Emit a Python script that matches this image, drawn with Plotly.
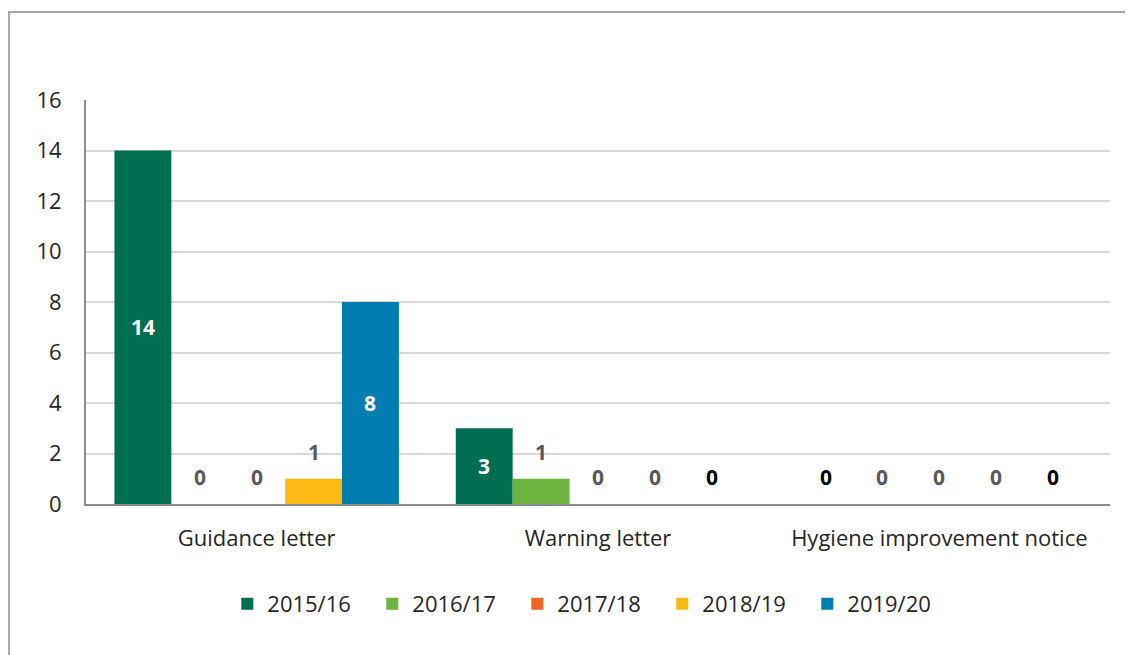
import plotly.graph_objects as go

categories = ["Guidance letter", "Warning letter", "Hygiene improvement notice"]
series_names = ["2015/16", "2016/17", "2017/18", "2018/19", "2019/20"]
values_2015_16 = [14, 3, 0]
values_2016_17 = [0, 1, 0]
values_2017_18 = [0, 0, 0]
values_2018_19 = [1, 0, 0]
values_2019_20 = [8, 0, 0]
series_values = [values_2015_16, values_2016_17, values_2017_18, values_2018_19, values_2019_20]
colors = ["#006F51", "#6DB33F", "#F26522", "#FDB913", "#007DB0"]
y_ticks = [0, 2, 4, 6, 8, 10, 12, 14, 16]

FONT = "'Open Sans', 'Noto Sans', sans-serif"
FS = 22

fig = go.Figure()
for name, vals, col in zip(series_names, series_values, colors):
    fig.add_trace(go.Bar(x=categories, y=vals, name=name, marker=dict(color=col, line=dict(width=0)),
                         hoverinfo="x+y+name"))

# data labels
n = len(series_names)
annotations = []
black_labels = {(1, 4), (2, 0), (2, 4)}
for j, vals in enumerate(series_values):
    for i, v in enumerate(vals):
        xpos = i + (j - (n - 1) / 2) / (n + 1)
        if v >= 3:
            annotations.append(dict(x=xpos, y=v / 2, xref="x", yref="y", text=f"<b>{v}</b>",
                                    showarrow=False, font=dict(color="white", size=FS - 1, family=FONT)))
        else:
            c = "#000000" if (i, j) in black_labels else "#595959"
            annotations.append(dict(x=xpos, y=v, xref="x", yref="y", text=f"<b>{v}</b>",
                                    showarrow=False, yshift=27, yanchor="middle",
                                    font=dict(color=c, size=FS - 1, family=FONT)))

# page body has an 8px default margin, so the figure is sized/offset accordingly
# plot area in page pixels: x 86..1110, y 100..504
fig.update_layout(
    width=1125, height=647,
    margin=dict(l=78, r=23, t=92, b=151),
    paper_bgcolor="white", plot_bgcolor="white",
    barmode="group", bargap=1 / 6, bargroupgap=0,
    font=dict(family=FONT, size=FS, color="#404040"),
    xaxis=dict(showgrid=False, showline=True, linecolor="#8C8C8C", linewidth=2, ticks="",
               tickfont=dict(size=FS, color="#262626"), ticklabelstandoff=14),
    yaxis=dict(range=[0, 16], tickvals=y_ticks, showgrid=True, gridcolor="#D9D9D9", gridwidth=2,
               showline=True, linecolor="#8C8C8C", linewidth=2, zeroline=False, ticks="",
               tickfont=dict(size=FS, color="#262626"), ticklabelstandoff=18),
    legend=dict(orientation="h", x=0.492, xanchor="center", y=-0.2475, yanchor="middle",
                font=dict(size=FS, color="#262626"), itemwidth=30, traceorder="normal",
                entrywidth=100, entrywidthmode="pixels"),
    annotations=annotations,
    shapes=[dict(type="rect", xref="paper", yref="paper", x0=-0.0752, x1=1.05, y0=-0.45, y1=1.2178,
                 line=dict(color="#A6A6A6", width=2), fillcolor="rgba(0,0,0,0)", layer="below")],
)

fig.write_html("out.html")
